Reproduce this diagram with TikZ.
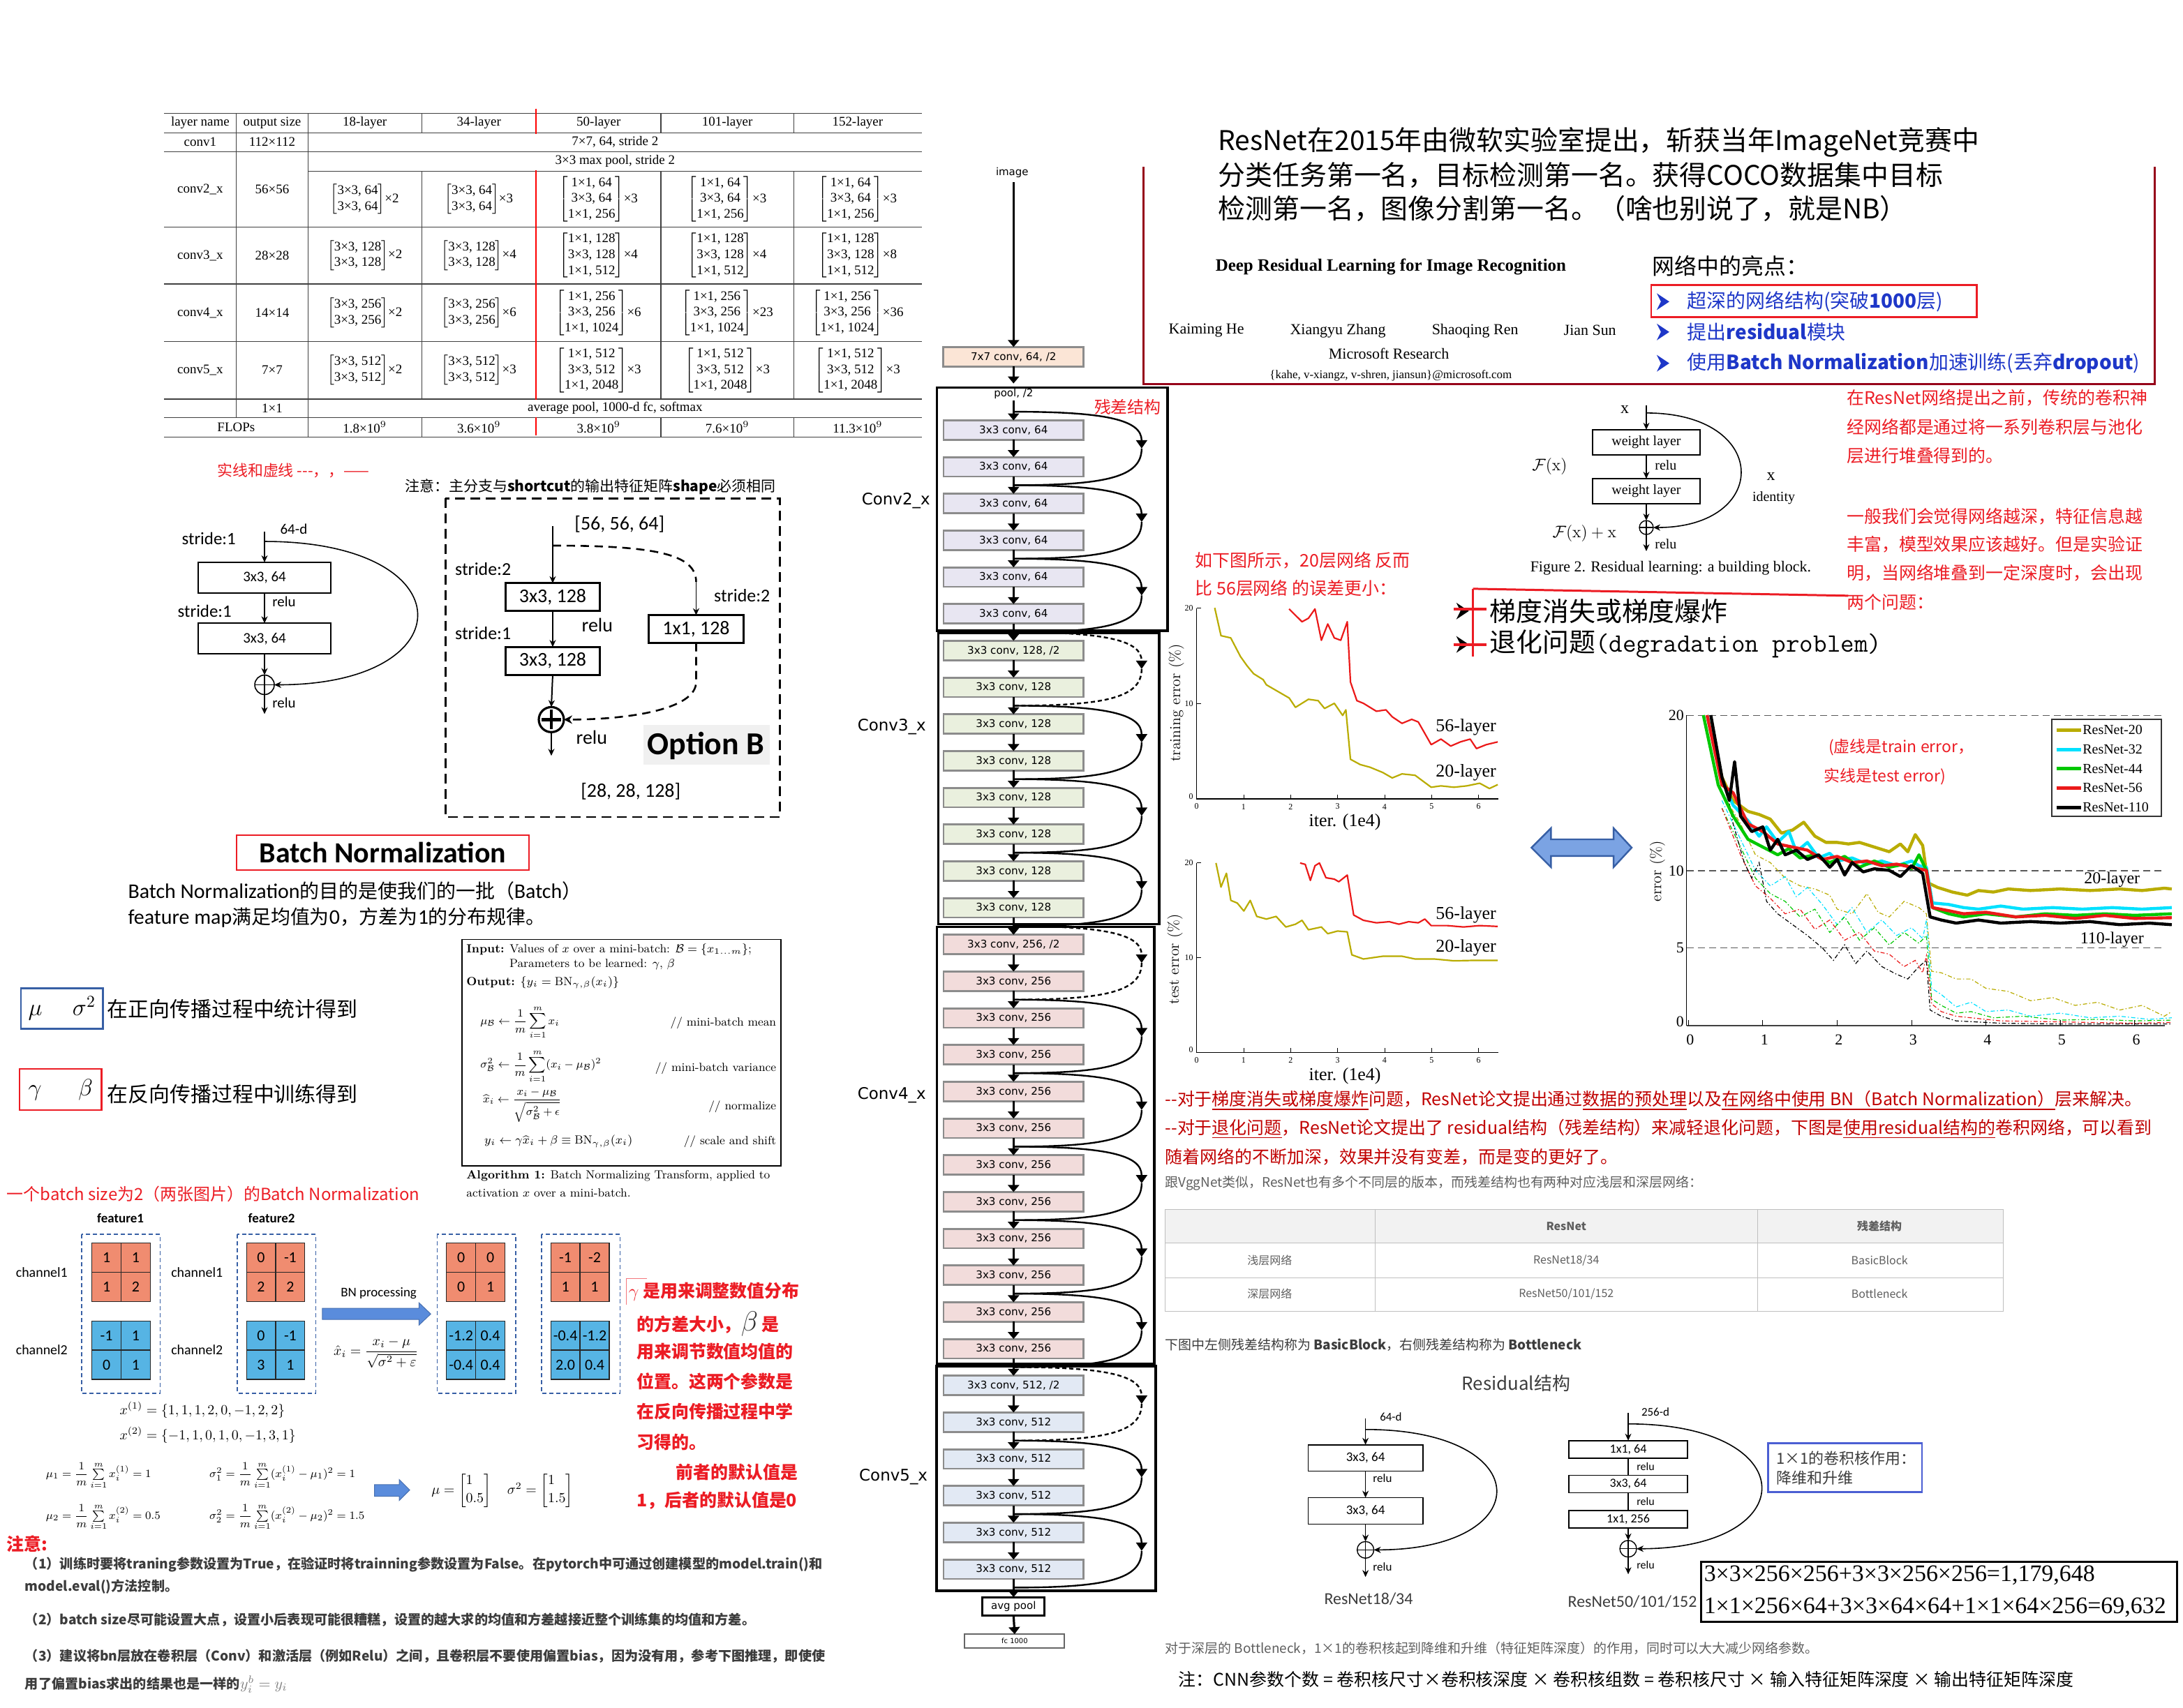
\RequirePackage{fix-cm}
\documentclass[tikz,border=0pt]{standalone}
\usepackage{amsmath}
\usepackage{fontspec}
\usetikzlibrary{arrows.meta}
\newfontfamily\cjk{Noto Sans CJK SC}
\newfontfamily\tnr{Liberation Serif}
\newfontfamily\carl{Carlito}
\newfontfamily\dvs{DejaVu Sans}
\newcommand\fsz[1]{\fontsize{#1}{#1}\selectfont}
\newcommand\brk[1]{$\left[\mbox{\begin{tabular}{@{}c@{}}#1\end{tabular}}\right]$}
\definecolor{rd}{RGB}{236,28,36}
\definecolor{drd}{RGB}{192,0,0}
\definecolor{frm}{RGB}{150,0,25}
\definecolor{blu}{RGB}{30,55,200}
\definecolor{bnb}{RGB}{55,95,165}
\definecolor{matr}{RGB}{240,140,112}
\definecolor{matb}{RGB}{86,180,228}
\definecolor{arrb}{RGB}{90,140,220}
\definecolor{olv}{RGB}{185,172,0}
\definecolor{cyn}{RGB}{0,225,255}
\definecolor{grn}{RGB}{0,200,0}
\definecolor{pr}{RGB}{235,25,25}
\definecolor{cvA}{RGB}{251,229,214}
\definecolor{cvB}{RGB}{232,230,242}
\definecolor{cvC}{RGB}{234,240,222}
\definecolor{cvD}{RGB}{242,220,219}
\definecolor{cvE}{RGB}{226,233,244}
\definecolor{txg}{RGB}{60,60,60}
\definecolor{lgr}{RGB}{95,95,95}
\tikzset{
 tline/.style={draw=black!75,line width=0.6pt},
 tt/.style={font={\tnr\fontsize{9.5}{11.4}\selectfont}},
 arr/.style={line width=0.8pt,-{Stealth[length=5pt,width=4.5pt]}},
 netbox/.style={draw=black!45,line width=1.4pt,minimum width=100.5,minimum height=14,font={\dvs\fontsize{7.6}{7.6}\selectfont}},
 netarr/.style={line width=1.6pt,-{Triangle[length=5pt,width=8pt]}},
 stagebox/.style={line width=1.8pt},
 scut/.style={line width=1.2pt,-{Triangle[length=6pt,width=8pt]}},
 scutb/.style={line width=1.2pt},
 dsh/.style={dash pattern=on 3pt off 2pt},
 mv/.style={font={\carl\fontsize{11}{11}\selectfont}},
 dd/.style={line width=0.6pt,dash pattern=on 3pt off 1.5pt on 0.8pt off 1.5pt},
 sol/.style={line width=2.2pt,line join=round},
}
\newcommand\bnmat[8]{%
 \begin{scope}[shift={(#1,#2)}]
  \fill[#3] (0,0) rectangle (42,42);
  \draw[black!85,line width=0.6pt] (0,0) rectangle (42,42) (21,0) -- (21,42) (0,21) -- (42,21);
  \node[mv] (#8a) at (10.5,10.5) {#4};
  \node[mv] (#8b) at (31.5,10.5) {#5};
  \node[mv] (#8c) at (10.5,31.5) {#6};
  \node[mv] (#8d) at (31.5,31.5) {#7};
 \end{scope}}
\newcommand\scut[2]{%
 \pgfmathsetmacro\ya{309+26.4*#1-13.2}%
 \pgfmathsetmacro\ym{309+26.4*#1+13.2}%
 \pgfmathsetmacro\yb{309+26.4*#1+39.6}%
 \coordinate (sa#1) at (728,\ya);
 \coordinate (sb#1) at (728,\yb);
 \draw[scut,#2] (sa#1) .. controls (795,\ya) and (820,{\ya+6}) .. (820,\ym);
 \draw[scutb,#2] (820,\ym) .. controls (820,{\yb-6}) and (795,\yb) .. (sb#1);}
\newcommand\bul[3]{\fill[#3] (#1,{#2-6}) -- ({#1+9},#2) -- (#1,{#2+6}) -- ({#1+3},#2) -- cycle;}
\begin{document}
\begin{tikzpicture}[x=1pt,y=-1pt,every node/.style={inner sep=0pt,outer sep=0pt}]
\useasboundingbox (0,0) rectangle (1568,1227);
\fill[white] (0,0) rectangle (1568,1227);

%% ================= TABLE =================
\draw[tline] (118,81.3) -- (662.4,81.3);
\draw[tline] (118,95.3) -- (662.4,95.3);
\draw[tline] (118,109) -- (662.4,109);
\draw[tline] (221.3,123) -- (662.4,123);
\foreach \y in {163,204,245.5,286.7,300,314} \draw[tline] (118,\y) -- (662.4,\y);
\draw[tline] (169.6,81.3) -- (169.6,300);
\draw[tline] (221.3,81.3) -- (221.3,314);
\foreach \x in {303,474.7,570} {\draw[tline] (\x,81.3) -- (\x,95.3); \draw[tline] (\x,123) -- (\x,286.7); \draw[tline] (\x,300) -- (\x,314);}
\draw[red,line width=1pt] (385,78) -- (385,96) (385,122.5) -- (385,287) (385,300) -- (385,313);
\foreach \x/\t [count=\i] in {143.8/layer name,195.5/output size,262/18-layer,344/34-layer,430/50-layer,522.4/101-layer,616/152-layer}
  \node[tt] (th\i) at (\x,88.3) {\t};
\node[tt] (tc1a) at (143.8,102) {conv1};
\node[tt] (tc1b) at (195.5,102) {112×112};
\node[tt] (tc1c) at (441.8,102) {7×7, 64, stride 2};
\node[tt] (tmp) at (441.8,116) {3×3 max pool, stride 2};
\node[tt] (tc2a) at (143.8,136) {conv2\_x};
\node[tt] (tc2b) at (195.5,136) {56×56};
\node[tt] (tc2c) at (262,143) {\brk{3×3, 64\\3×3, 64}×2};
\node[tt] (tc2d) at (344,143) {\brk{3×3, 64\\3×3, 64}×3};
\node[tt] (tc2e) at (430,143) {\brk{1×1, 64\\3×3, 64\\1×1, 256}×3};
\node[tt] (tc2f) at (522.4,143) {\brk{1×1, 64\\3×3, 64\\1×1, 256}×3};
\node[tt] (tc2g) at (616,143) {\brk{1×1, 64\\3×3, 64\\1×1, 256}×3};
\node[tt] (tc3a) at (143.8,183.5) {conv3\_x};
\node[tt] (tc3b) at (195.5,183.5) {28×28};
\node[tt] (tc3c) at (262,183.5) {\brk{3×3, 128\\3×3, 128}×2};
\node[tt] (tc3d) at (344,183.5) {\brk{3×3, 128\\3×3, 128}×4};
\node[tt] (tc3e) at (430,183.5) {\brk{1×1, 128\\3×3, 128\\1×1, 512}×4};
\node[tt] (tc3f) at (522.4,183.5) {\brk{1×1, 128\\3×3, 128\\1×1, 512}×4};
\node[tt] (tc3g) at (616,183.5) {\brk{1×1, 128\\3×3, 128\\1×1, 512}×8};
\node[tt] (tc4a) at (143.8,224.7) {conv4\_x};
\node[tt] (tc4b) at (195.5,224.7) {14×14};
\node[tt] (tc4c) at (262,224.7) {\brk{3×3, 256\\3×3, 256}×2};
\node[tt] (tc4d) at (344,224.7) {\brk{3×3, 256\\3×3, 256}×6};
\node[tt] (tc4e) at (430,224.7) {\brk{1×1, 256\\3×3, 256\\1×1, 1024}×6};
\node[tt] (tc4f) at (522.4,224.7) {\brk{1×1, 256\\3×3, 256\\1×1, 1024}×23};
\node[tt] (tc4g) at (616,224.7) {\brk{1×1, 256\\3×3, 256\\1×1, 1024}×36};
\node[tt] (tc5a) at (143.8,266) {conv5\_x};
\node[tt] (tc5b) at (195.5,266) {7×7};
\node[tt] (tc5c) at (262,266) {\brk{3×3, 512\\3×3, 512}×2};
\node[tt] (tc5d) at (344,266) {\brk{3×3, 512\\3×3, 512}×3};
\node[tt] (tc5e) at (430,266) {\brk{1×1, 512\\3×3, 512\\1×1, 2048}×3};
\node[tt] (tc5f) at (522.4,266) {\brk{1×1, 512\\3×3, 512\\1×1, 2048}×3};
\node[tt] (tc5g) at (616,266) {\brk{1×1, 512\\3×3, 512\\1×1, 2048}×3};
\node[tt] (tavb) at (195.5,293.3) {1×1};
\node[tt] (tavc) at (441.8,293.3) {average pool, 1000-d fc, softmax};
\node[tt] (tfa) at (169.6,307) {FLOPs};
\node[tt] (tfb) at (262,307) {1.8×10$^9$};
\node[tt] (tfc) at (344,307) {3.6×10$^9$};
\node[tt] (tfd) at (430,307) {3.8×10$^9$};
\node[tt] (tfe) at (522.4,307) {7.6×10$^9$};
\node[tt] (tff) at (616,307) {11.3×10$^9$};

%% ================= SHORTCUT DIAGRAMS =================
\node[font=\cjk\fsz{11},text=rd,anchor=west] (sx1) at (156,338) {实线和虚线 ---，，——};
\node[font=\cjk\fsz{10.5},anchor=west] (sx2) at (291,350) {注意：主分支与\textbf{shortcut}的输出特征矩阵\textbf{shape}必须相同};
\draw[line width=1.4pt,dash pattern=on 7pt off 4pt] (320,358) rectangle (560,587);
% left block
\node[draw,line width=0.9pt,minimum width=95,minimum height=22,font=\carl\fsz{10.5}] (L1) at (190,415) {3x3, 64};
\node[draw,line width=0.9pt,minimum width=95,minimum height=22,font=\carl\fsz{10.5}] (L2) at (190,458.8) {3x3, 64};
\node[draw,circle,line width=0.8pt,minimum size=14] (Ls) at (190,492) {};
\draw[line width=0.8pt] (Ls.north) -- (Ls.south) (Ls.west) -- (Ls.east);
\coordinate (Lin) at (190,382);
\coordinate (Lj) at (190,389);
\coordinate (Lout) at (190,513);
\draw[arr] (Lin) -- (L1.north);
\draw[arr] (L1.south) -- (L2.north);
\draw[arr] (L2.south) -- (Ls.north);
\draw[arr] (Ls.south) -- (Lout);
\draw[arr] (Lj) .. controls (335,389) and (335,492) .. (Ls.east);
\node[font=\carl\fsz{10.5}] (L64) at (211,380) {64-d};
\node[font=\carl\fsz{12.5}] (Lst1) at (150,387) {stride:1};
\node[font=\carl\fsz{12.5}] (Lst2) at (147,439) {stride:1};
\node[font=\carl\fsz{10.5}] (Lr1) at (204,432) {relu};
\node[font=\carl\fsz{10.5}] (Lr2) at (204,505) {relu};
% right block (Option B)
\node[draw,line width=1.6pt,minimum width=68,minimum height=20,font=\carl\fsz{14}] (R1) at (397,429) {3x3, 128};
\node[draw,line width=1.6pt,minimum width=68,minimum height=20,font=\carl\fsz{14}] (R2) at (397,474.8) {3x3, 128};
\node[draw,line width=1.6pt,minimum width=68,minimum height=20,font=\carl\fsz{14}] (R3) at (500,452) {1x1, 128};
\node[draw,circle,line width=1.6pt,minimum size=18] (Rs) at (396,517) {};
\draw[line width=2.4pt] (396,510) -- (396,524) (389,517) -- (403,517);
\coordinate (Rin) at (397,378);
\coordinate (Rout) at (396,543);
\coordinate (Rj) at (397,392);
\coordinate (Rk) at (500,418);
\draw[arr,line width=1pt] (Rin) -- (R1.north);
\draw[arr,line width=1pt] (R1.south) -- (R2.north);
\draw[arr,line width=1pt] (R2.south) -- (Rs.north);
\draw[arr,line width=1pt] (Rs.south) -- (Rout);
\draw[line width=1.3pt,dash pattern=on 6pt off 4pt] (Rj) .. controls (470,392) and (500,398) .. (Rk);
\draw[arr] (Rk) -- (R3.north);
\draw[line width=1.3pt,dash pattern=on 6pt off 4pt,-{Stealth[length=6pt,width=6pt]}] (R3.south) -- (500,490) .. controls (500,510) and (450,517) .. (Rs.east);
\node[font=\carl\fsz{14}] (R56) at (445,376.5) {[56, 56, 64]};
\node[font=\carl\fsz{13}] (Rst1) at (347,409) {stride:2};
\node[font=\carl\fsz{13}] (Rst2) at (347,455) {stride:1};
\node[font=\carl\fsz{13}] (Rst3) at (533,428) {stride:2};
\node[font=\carl\fsz{14}] (Rr1) at (429,449) {relu};
\node[font=\carl\fsz{14}] (Rr2) at (425,530) {relu};
\node[font=\carl\fsz{14}] (R28) at (453,568.5) {[28, 28, 128]};
\fill[black!6] (462,521) rectangle (553,549.5);
\node[font=\carl\bfseries\fsz{23}] (optb) at (507,536) {Option B};

%% ================= BATCH NORMALIZATION =================
\node[draw=rd,line width=1.3pt,minimum width=210,minimum height=25,font=\carl\bfseries\fsz{21}] (bntitle) at (275,612.5) {Batch Normalization};
\node[anchor=west] (bnt1) at (92,640) {{\carl\fsz{15}Batch Normalization}{\cjk\fsz{14}的目的是使我们的一批（}{\carl\fsz{15}Batch}{\cjk\fsz{14}）}};
\node[anchor=west] (bnt2) at (92,659) {{\carl\fsz{15}feature map}{\cjk\fsz{14}满足均值为}{\carl\fsz{15}0}{\cjk\fsz{14}，方差为}{\carl\fsz{15}1}{\cjk\fsz{14}的分布规律。}};
\node[draw=bnb,line width=1.3pt,minimum width=59,minimum height=29,font=\fsz{17}] (mubox) at (44.5,724.5) {$\mu\quad\;\sigma^{2}$};
\node[font=\cjk\fsz{15},anchor=west] (mutxt) at (77,725) {在正向传播过程中统计得到};
\node[draw=rd,line width=1.3pt,minimum width=59,minimum height=29.5,font=\fsz{17}] (gbox) at (43.5,782.75) {$\gamma\quad\;\;\beta$};
\node[font=\cjk\fsz{15},anchor=west] (gtxt) at (77,786) {在反向传播过程中训练得到};

%% ================= ALGORITHM BOX =================
\draw[line width=0.8pt] (331.7,675) rectangle (561,837.5);
\node[font=\fsz{8.5},anchor=west] (al1) at (335,682.5) {\textbf{Input:} Values of $x$ over a mini-batch: $\mathcal{B}=\{x_{1\ldots m}\}$;};
\node[font=\fsz{8.5},anchor=west] (al2) at (366,693) {Parameters to be learned: $\gamma$, $\beta$};
\node[font=\fsz{8.5},anchor=west] (al3) at (335,706) {\textbf{Output:} $\{y_i=\mathrm{BN}_{\gamma,\beta}(x_i)\}$};
\node[font=\fsz{8},anchor=west] (al4) at (345,734.5) {$\displaystyle\mu_{\mathcal{B}}\leftarrow\frac{1}{m}\sum_{i=1}^{m}x_i$};
\node[font=\fsz{8.5},anchor=east] (al4c) at (557.5,735) {// mini-batch mean};
\node[font=\fsz{8},anchor=west] (al5) at (345,766) {$\displaystyle\sigma^2_{\mathcal{B}}\leftarrow\frac{1}{m}\sum_{i=1}^{m}(x_i-\mu_{\mathcal{B}})^2$};
\node[font=\fsz{8.5},anchor=east] (al5c) at (557.5,767.5) {// mini-batch variance};
\node[font=\fsz{8},anchor=west] (al6) at (347,794) {$\displaystyle\widehat{x}_i\leftarrow\frac{x_i-\mu_{\mathcal{B}}}{\sqrt{\sigma^2_{\mathcal{B}}+\epsilon}}$};
\node[font=\fsz{8.5},anchor=east] (al6c) at (557.5,795) {// normalize};
\node[font=\fsz{8.5},anchor=west] (al7) at (348,820) {$y_i\leftarrow\gamma\widehat{x}_i+\beta\equiv\mathrm{BN}_{\gamma,\beta}(x_i)$};
\node[font=\fsz{8.5},anchor=east] (al7c) at (557.5,820) {// scale and shift};
\node[font=\fsz{8.5},anchor=west] (al8) at (335,845) {\textbf{Algorithm 1:} Batch Normalizing Transform, applied to};
\node[font=\fsz{8.5},anchor=west] (al9) at (335,857) {activation $x$ over a mini-batch.};

%% ================= BN EXAMPLE =================
\node[font=\cjk\fsz{12},text=rd,anchor=west] (ex0) at (5,858) {一个batch size为2（两张图片）的Batch Normalization};
\node[font=\carl\bfseries\fsz{9.5}] (f1) at (86.5,875) {feature1};
\node[font=\carl\bfseries\fsz{9.5}] (f2) at (195,875) {feature2};
\foreach \x in {58.7,170.5,314,389} \draw[bnb,line width=0.8pt,dash pattern=on 3pt off 2pt] (\x,886.7) rectangle ({\x+56.3},1001);
\bnmat{66}{893}{matr}{1}{1}{1}{2}{ma}
\bnmat{66}{949}{matb}{-1}{1}{0}{1}{mb}
\bnmat{177}{893}{matr}{0}{-1}{2}{2}{mc}
\bnmat{177}{949}{matb}{0}{-1}{3}{1}{md}
\bnmat{320.7}{893}{matr}{0}{0}{0}{1}{me}
\bnmat{320.7}{949}{matb}{-1.2}{0.4}{-0.4}{0.4}{mf}
\bnmat{395.6}{893}{matr}{-1}{-2}{1}{1}{mg}
\bnmat{395.6}{949}{matb}{-0.4}{-1.2}{2.0}{0.4}{mh}
\node[font=\carl\fsz{10}] (ch1) at (30,914) {channel1};
\node[font=\carl\fsz{10}] (ch2) at (30,970) {channel2};
\node[font=\carl\fsz{10}] (ch3) at (141.5,914) {channel1};
\node[font=\carl\fsz{10}] (ch4) at (141.5,970) {channel2};
\node[font=\carl\fsz{9.5}] (bnp) at (272,929) {BN processing};
\filldraw[fill=arrb,draw=arrb!80!black,line width=0.5pt] (231.5,940) -- (301,940) -- (301,936) -- (309.4,944) -- (301,952) -- (301,948) -- (231.5,948) -- cycle;
\node[font=\fsz{10}] (bnf) at (270,972) {$\hat{x}_i=\dfrac{x_i-\mu}{\sqrt{\sigma^2+\varepsilon}}$};
\draw[rd!60,line width=0.6pt] (464.8,918.7) -- (449.8,918.7) -- (449.8,937.5);
\node[font=\cjk\bfseries\fsz{12.5},text=rd,anchor=west] (r1) at (451.6,928) {{\mdseries\fsz{13}$\gamma$} 是用来调整数值分布};
\node[font=\cjk\bfseries\fsz{12.5},text=rd,anchor=west] (r2) at (457.3,951) {的方差大小，{\mdseries\color{black!80}\fsz{20}$\beta$} 是};
\node[font=\cjk\bfseries\fsz{12.5},text=rd,anchor=west] (r3) at (457.3,971) {用来调节数值均值的};
\node[font=\cjk\bfseries\fsz{12.5},text=rd,anchor=west] (r4) at (457.3,992.5) {位置。这两个参数是};
\node[font=\cjk\bfseries\fsz{12.5},text=rd,anchor=west] (r5) at (457.3,1014) {在反向传播过程中学};
\node[font=\cjk\bfseries\fsz{12.5},text=rd,anchor=west] (r6) at (457.3,1036) {习得的。};
\node[font=\cjk\bfseries\fsz{12.5},text=rd,anchor=west] (r7) at (485.5,1057.5) {前者的默认值是};
\node[font=\cjk\bfseries\fsz{12.5},text=rd,anchor=west] (r8) at (457.3,1078) {1，后者的默认值是0};
\node[font=\fsz{10},anchor=west] (xv1) at (86,1013) {$x^{(1)}=\{1,1,1,2,0,-1,2,2\}$};
\node[font=\fsz{10},anchor=west] (xv2) at (86,1031) {$x^{(2)}=\{-1,1,0,1,0,-1,3,1\}$};
\node[font=\fsz{8},anchor=west] (mu1) at (33,1060) {$\mu_1=\dfrac{1}{m}\sum\limits_{i=1}^{m}x_i^{(1)}=1$};
\node[font=\fsz{8},anchor=west] (mu2) at (33,1090) {$\mu_2=\dfrac{1}{m}\sum\limits_{i=1}^{m}x_i^{(2)}=0.5$};
\node[font=\fsz{8},anchor=west] (sg1) at (150.5,1060) {$\sigma_1^2=\dfrac{1}{m}\sum\limits_{i=1}^{m}(x_i^{(1)}-\mu_1)^2=1$};
\node[font=\fsz{8},anchor=west] (sg2) at (150.5,1090) {$\sigma_2^2=\dfrac{1}{m}\sum\limits_{i=1}^{m}(x_i^{(2)}-\mu_2)^2=1.5$};
\filldraw[fill=arrb,draw=arrb!80!black,line width=0.5pt] (269,1066.7) -- (286.8,1066.7) -- (286.8,1063) -- (294.3,1070.5) -- (286.8,1078) -- (286.8,1075) -- (269,1075) -- cycle;
\node[font=\fsz{10},anchor=west] (musg) at (310,1071) {$\mu=\left[\begin{array}{@{}l@{}}1\\[3pt]0.5\end{array}\right]\quad\sigma^2=\left[\begin{array}{@{}l@{}}1\\[3pt]1.5\end{array}\right]$};

%% ================= NOTES =================
\node[font=\cjk\bfseries\fsz{12.5},text=rd,anchor=west] (nt0) at (5,1109) {注意:};
\node[font=\cjk\bfseries\fsz{9.6},text=txg,anchor=west] (nt1) at (18,1124) {（1）训练时要将traning参数设置为True，在验证时将trainning参数设置为False。在pytorch中可通过创建模型的model.train()和};
\node[font=\cjk\bfseries\fsz{9.6},text=txg,anchor=west] (nt2) at (18,1140) {model.eval()方法控制。};
\node[font=\cjk\bfseries\fsz{9.6},text=txg,anchor=west] (nt3) at (18,1164) {（2）batch size尽可能设置大点，设置小后表现可能很糟糕，设置的越大求的均值和方差越接近整个训练集的均值和方差。};
\node[font=\cjk\bfseries\fsz{9.6},text=txg,anchor=west] (nt4) at (18,1190) {（3）建议将bn层放在卷积层（Conv）和激活层（例如Relu）之间，且卷积层不要使用偏置bias，因为没有用，参考下图推理，即使使};
\node[font=\cjk\bfseries\fsz{9.6},text=txg,anchor=west] (nt5) at (18,1210) {用了偏置bias求出的结果也是一样的{\mdseries\color{black!50}\fsz{11}$y_i^b=y_i$}};

%% ================= NETWORK COLUMN =================
\node[font=\dvs\fsz{7.5}] (img) at (727,124) {image};
\node[netbox,fill=cvA,minimum width=100.7] (cv1) at (728,256.3) {7x7 conv, 64, /2};
\draw[netarr] (728,131) -- (cv1.north);
\draw[netarr] (cv1.south) -- (728,275.5);
\draw[stagebox] (673,278.4) rectangle (838.7,453);
\draw[stagebox] (674,455) rectangle (832.5,664);
\draw[stagebox] (673,666) rectangle (829,980);
\draw[stagebox] (672.7,981.5) rectangle (830,1143);
\node[font=\dvs\fsz{7.5}] (pool) at (728,283) {pool, /2};
\foreach \k in {0,...,5} \node[netbox,fill=cvB] (b\k) at (728,{309+26.4*\k}) {3x3 conv, 64};
\node[netbox,fill=cvC] (b6) at (728,{309+26.4*6}) {3x3 conv, 128, /2};
\foreach \k in {7,...,13} \node[netbox,fill=cvC] (b\k) at (728,{309+26.4*\k}) {3x3 conv, 128};
\node[netbox,fill=cvD] (b14) at (728,{309+26.4*14}) {3x3 conv, 256, /2};
\foreach \k in {15,...,25} \node[netbox,fill=cvD] (b\k) at (728,{309+26.4*\k}) {3x3 conv, 256};
\node[netbox,fill=cvE] (b26) at (728,{309+26.4*26}) {3x3 conv, 512, /2};
\foreach \k in {27,...,31} \node[netbox,fill=cvE] (b\k) at (728,{309+26.4*\k}) {3x3 conv, 512};
\draw[netarr] (728,287.5) -- (b0.north);
\foreach \k in {0,...,30} {\pgfmathtruncatemacro\n{\k+1}\draw[netarr] (b\k.south) -- (b\n.north);}
\foreach \k in {0,2,4,8,10,12,16,18,20,22,24,28,30} {\scut{\k}{}}
\scut{6}{dsh}
\scut{14}{dsh}
\scut{26}{dsh}
\node[draw,line width=1.5pt,minimum width=44.5,minimum height=13,font=\dvs\fsz{7.5}] (avg) at (728,1154) {avg pool};
\node[draw=black!60,line width=1pt,minimum width=71.7,minimum height=10,font=\dvs\fsz{5}] (fc) at (728.8,1179) {fc 1000};
\draw[netarr] (b31.south) -- (avg.north);
\draw[netarr] (avg.south) -- (fc.north);
\node[font=\cjk\fsz{12},text=rd] (rcjg) at (810,292.5) {残差结构};
\node[font=\dvs\fsz{11.5}] (lc2) at (643.5,360) {Conv2\_x};
\node[font=\dvs\fsz{11.5}] (lc3) at (640.5,522) {Conv3\_x};
\node[font=\dvs\fsz{11.5}] (lc4) at (640.5,787) {Conv4\_x};
\node[font=\dvs\fsz{11.5}] (lc5) at (641.7,1061) {Conv5\_x};

%% ================= TOP RIGHT =================
\draw[frm,line width=1.3pt] (821.4,120) -- (821.4,276) -- (1547.6,276) -- (1547.6,120);
\node[font=\cjk\fsz{19.5},anchor=west] (tr1) at (875,102) {ResNet在2015年由微软实验室提出，斩获当年ImageNet竞赛中};
\node[font=\cjk\fsz{19.5},anchor=west] (tr2) at (875,126) {分类任务第一名，目标检测第一名。获得COCO数据集中目标};
\node[font=\cjk\fsz{19.5},anchor=west] (tr3) at (875,150) {检测第一名，图像分割第一名。（啥也别说了，就是NB）};
\node[font=\tnr\bfseries\fsz{12.5}] (ptitle) at (999,191.7) {Deep Residual Learning for Image Recognition};
\node[font=\tnr\fsz{11}] (au1) at (866.5,237.5) {Kaiming He};
\node[font=\tnr\fsz{11}] (au2) at (961,237.5) {Xiangyu Zhang};
\node[font=\tnr\fsz{11}] (au3) at (1059.5,237.5) {Shaoqing Ren};
\node[font=\tnr\fsz{11}] (au4) at (1142,237.5) {Jian Sun};
\node[font=\tnr\fsz{11}] (au5) at (997.6,254) {Microsoft Research};
\node[font=\tnr\fsz{8.5}] (au6) at (999,269.7) {\{kahe, v-xiangz, v-shren, jiansun\}@microsoft.com};
\node[font=\cjk\fsz{16},anchor=west] (hl) at (1187,191) {网络中的亮点：};
\draw[rd,line width=1.4pt] (1186,204.7) rectangle (1420,228);
\bul{1190}{216.7}{blu}
\bul{1190}{238.5}{blu}
\bul{1190}{261}{blu}
\node[font=\cjk\fsz{14},text=blu,anchor=west] (hl1) at (1212,216.7) {超深的网络结构(突破\textbf{1000}层)};
\node[font=\cjk\fsz{14},text=blu,anchor=west] (hl2) at (1212,238.5) {提出\textbf{residual}模块};
\node[font=\cjk\fsz{14},text=blu,anchor=west] (hl3) at (1212,261) {使用\textbf{Batch Normalization}加速训练(丢弃\textbf{dropout})};

%% ================= BUILDING BLOCK =================
\node[draw,line width=0.8pt,minimum width=77,minimum height=18,font=\tnr\fsz{10}] (w1) at (1182.5,317.7) {weight layer};
\node[draw,line width=0.8pt,minimum width=77,minimum height=18,font=\tnr\fsz{10}] (w2) at (1182.5,352.9) {weight layer};
\node[draw,circle,line width=0.7pt,minimum size=10] (ws) at (1182.5,379) {};
\draw[line width=0.7pt] (ws.north) -- (ws.south) (ws.west) -- (ws.east);
\coordinate (win) at (1182.5,291);
\coordinate (wj) at (1182.5,296.7);
\coordinate (wout) at (1182.5,396);
\draw[arr,line width=0.7pt] (win) -- (w1.north);
\draw[arr,line width=0.7pt] (w1.south) -- (w2.north);
\draw[arr,line width=0.7pt] (w2.south) -- (ws.north);
\draw[arr,line width=0.7pt] (ws.south) -- (wout);
\draw[arr,line width=0.8pt] (wj) .. controls (1272,296.7) and (1272,379) .. (ws.east);
\node[font=\tnr\fsz{12}] (wx) at (1167,294) {x};
\node[font=\tnr\fsz{10}] (wr1) at (1196.5,334) {relu};
\node[font=\tnr\fsz{10}] (wr2) at (1196.5,391) {relu};
\node[font=\fsz{12}] (wf) at (1113,335) {$\mathcal{F}(\mathrm{x})$};
\node[font=\fsz{12}] (wfx) at (1138,383) {$\mathcal{F}(\mathrm{x})+\mathrm{x}$};
\node[font=\tnr\fsz{12}] (wx2) at (1272,342.5) {x};
\node[font=\tnr\fsz{10}] (wid) at (1274,358) {identity};
\node[font=\tnr\fsz{11}] (wcap) at (1200,408) {Figure 2. Residual learning: a building block.};
\node[font=\cjk\fsz{12.5},text=rd,anchor=west] (q1) at (1326.5,286) {在ResNet网络提出之前，传统的卷积神};
\node[font=\cjk\fsz{12.5},text=rd,anchor=west] (q2) at (1326.5,306.7) {经网络都是通过将一系列卷积层与池化};
\node[font=\cjk\fsz{12.5},text=rd,anchor=west] (q3) at (1326.5,327.5) {层进行堆叠得到的。};
\node[font=\cjk\fsz{12.5},text=rd,anchor=west] (q4) at (1326.5,371) {一般我们会觉得网络越深，特征信息越};
\node[font=\cjk\fsz{12.5},text=rd,anchor=west] (q5) at (1326.5,391) {丰富，模型效果应该越好。但是实验证};
\node[font=\cjk\fsz{12.5},text=rd,anchor=west] (q6) at (1326.5,411.7) {明，当网络堆叠到一定深度时，会出现};
\node[font=\cjk\fsz{12.5},text=rd,anchor=west] (q7) at (1326.5,432.5) {两个问题：};
\node[font=\cjk\fsz{12.5},text=rd,anchor=west] (q8) at (858.6,402.5) {如下图所示，20层网络 反而};
\node[font=\cjk\fsz{12.5},text=rd,anchor=west] (q9) at (858.6,422.5) {比 56层网络 的误差更小：};
\draw[rd,line width=1.5pt] (1058,423) -- (1327.5,428);
\draw[rd,line width=1.2pt] (1058,423) -- (1058,471.7);
\bul{1046}{439}{black}
\bul{1046}{463}{black}
\draw[rd,line width=2pt] (1044,437.5) -- (1067.5,437.5) (1044,463) -- (1067.5,463);
\node[font=\cjk\fsz{19},anchor=west] (pb1) at (1070,439) {梯度消失或梯度爆炸};
\node[anchor=west] (pb2) at (1070,462.5) {{\cjk\fsz{19}退化问题}{\ttfamily\fsz{19}(degradation problem)}};

%% ================= LEFT PLOTS =================
\draw[line width=0.6pt] (859.5,437) -- (859.5,574) -- (1076,574);
\draw[line width=0.6pt] (859.5,620) -- (859.5,756) -- (1076,756);
\foreach \i in {0,...,6} {
  \draw[line width=0.4pt] ({859.5+33.75*\i},574) -- ({859.5+33.75*\i},571);
  \node[font=\tnr\fsz{6}] (pa\i) at ({859.5+33.75*\i},579.5) {\i};
  \draw[line width=0.4pt] ({859.5+33.75*\i},756) -- ({859.5+33.75*\i},753);
  \node[font=\tnr\fsz{6}] (pc\i) at ({859.5+33.75*\i},761.7) {\i};}
\foreach \v/\yy in {0/572,10/505.5,20/437} {\node[font=\tnr\fsz{6},anchor=east] (pb\v) at (857,\yy) {\v};}
\foreach \v/\yy in {0/754,10/688,20/620} {\node[font=\tnr\fsz{6},anchor=east] (pd\v) at (857,\yy) {\v};}
\foreach \yy in {505.5,437,688,620} \draw[line width=0.4pt] (859.5,\yy) -- (862.5,\yy);
\node[font=\tnr\fsz{13}] (pit1) at (966,590.5) {iter. (1e4)};
\node[font=\tnr\fsz{13}] (pit2) at (966,773) {iter. (1e4)};
\node[font=\fsz{11},rotate=90] (pyl1) at (845,505) {training error (\%)};
\node[font=\fsz{11},rotate=90] (pyl2) at (844,689) {test error (\%)};
\draw[pr,line width=1.1pt,line join=round] plot coordinates {(925.9,437.5) (935.2,446.7) (939.8,444.2) (944.5,437.5) (949.1,460) (953.7,448.3) (958.4,458.3) (963,460) (967.7,446.7) (970,490) (974.6,503.4) (979.3,505.3) (988.6,511) (995.5,510) (1000,515) (1007,519.7) (1014,516.8) (1018.7,518.7) (1028,535) (1035,531) (1042,536) (1049,533) (1056,531) (1060.5,537.8) (1067.5,535) (1075.8,533)};
\draw[olv,line width=1.1pt,line join=round] plot coordinates {(872.5,436.7) (877,456.7) (884,458.3) (891,471.7) (895.7,478.3) (900.4,484) (907.3,488.3) (909.6,492) (921,498.6) (926,501.5) (930.5,508.2) (939.8,502.4) (946.8,503.4) (951.4,509) (958.4,505.3) (964.4,514) (966.7,510) (970,545.5) (977,549.3) (984,551.2) (993.2,555) (1000,558.9) (1007,556) (1016.4,557) (1028,565.6) (1035,564.6) (1044.3,565.6) (1053.6,564.6) (1062.8,562.7) (1069.8,566.5) (1075.8,563.7)};
\draw[pr,line width=1.1pt,line join=round] plot coordinates {(933.8,620) (937.5,621) (941.2,632.5) (944.5,622) (947.7,620) (952.4,630.6) (958.4,631.6) (961.6,633.5) (967.7,628.7) (972.3,657.4) (979.3,661.2) (988.6,663) (997.8,662.2) (1004.8,664) (1011.8,662.2) (1018.7,663) (1023.4,660.3) (1028,665) (1039.6,665) (1051.2,666) (1062.8,665) (1075.8,665.6)};
\draw[olv,line width=1.1pt,line join=round] plot coordinates {(873.4,620) (877,637.3) (880.9,627.4) (884.1,646.9) (888.7,648.8) (893.4,654.5) (898,646.9) (902.7,658.4) (909.6,660.3) (916.6,658.4) (923.6,666) (930.5,664) (935.2,661.2) (939.8,668) (949.1,666) (953.7,670.8) (960.7,668.9) (967.7,669.5) (971,686) (979.3,689) (993.2,687) (1007,687) (1016.4,689) (1030.3,689) (1044.3,690.3) (1058.2,690) (1075.8,690)};
\node[font=\tnr\fsz{13}] (lb1) at (1053,522.5) {56-layer};
\node[font=\tnr\fsz{13}] (lb2) at (1053,555) {20-layer};
\node[font=\tnr\fsz{13}] (lb3) at (1053,657.4) {56-layer};
\node[font=\tnr\fsz{13}] (lb4) at (1053,681) {20-layer};
\filldraw[fill=arrb!80,draw=bnb,line width=1.2pt] (1100,609) -- (1114,595) -- (1114,603) -- (1159,603) -- (1159,595) -- (1172,609) -- (1159,623) -- (1159,615) -- (1114,615) -- (1114,623) -- cycle;

%% ================= BIG PLOT =================
\foreach \yy in {514,625.5,681} \draw[black!65,line width=0.9pt,dash pattern=on 5pt off 3pt] (1211.4,\yy) -- (1555,\yy);
\draw[black!75,line width=1pt] (1211.4,736.8) -- (1555,736.8);
\draw[line width=0.6pt] (1211.4,514) -- (1211.4,736.8);
\foreach \i in {0,...,6} {\draw[line width=0.5pt] ({1212.8+53.4*\i},736.8) -- ({1212.8+53.4*\i},733);
  \node[font=\tnr\fsz{11}] (bx\i) at ({1214+53.4*\i},747) {\i};}
\node[font=\tnr\fsz{11},anchor=east] (by20) at (1209.5,514) {20};
\node[font=\tnr\fsz{11},anchor=east] (by10) at (1209.5,625.5) {10};
\node[font=\tnr\fsz{11},anchor=east] (by5) at (1209.5,681) {5};
\node[font=\tnr\fsz{11},anchor=east] (by0) at (1209.5,734) {0};
\node[font=\fsz{11},rotate=90] (byl) at (1190.5,626) {error (\%)};
\begin{scope}[shift={(1212.8,736.8)},x=53.4pt,y=11.15pt]
\draw[olv,dd] plot coordinates {(0.45,15) (0.7,13) (0.9,11) (1.1,10.5) (1.3,9.5) (1.5,9.0) (1.7,8.8) (1.9,8.4) (2.0,7.5) (2.2,7.2) (2.4,8.5) (2.55,7.3) (2.7,7.0) (2.9,8.0) (3.1,7.6) (3.2,7.2) (3.27,3.5) (3.4,3.4) (3.6,3.0) (3.8,3.0) (4.0,2.4) (4.3,2.2) (4.6,1.6) (4.9,1.8) (5.2,1.3) (5.5,1.5) (5.8,1.0) (6.1,1.3) (6.4,0.6) (6.5,0.9)};
\draw[cyn,dd] plot coordinates {(0.45,14.5) (0.7,12) (0.9,10) (1.1,9.0) (1.3,9.6) (1.45,8.3) (1.6,8.9) (1.8,7.8) (2.0,6.5) (2.2,7.6) (2.4,6.0) (2.6,6.8) (2.8,5.8) (3.0,6.3) (3.15,5.6) (3.2,6.8) (3.27,2.4) (3.4,2.0) (3.6,1.2) (3.8,1.5) (4.0,0.9) (4.3,1.0) (4.6,0.6) (5.0,0.8) (5.4,0.5) (5.8,0.6) (6.2,0.4) (6.5,0.5)};
\draw[grn,dd] plot coordinates {(0.45,14) (0.7,11.5) (0.9,9.5) (1.1,8.5) (1.3,8.0) (1.5,7.0) (1.7,7.5) (1.9,6.0) (2.1,7.0) (2.3,5.5) (2.5,6.3) (2.7,5.2) (2.9,6.0) (3.1,5.3) (3.2,5.8) (3.27,1.7) (3.4,1.3) (3.6,0.8) (3.8,0.9) (4.1,0.5) (4.5,0.6) (5.0,0.35) (5.5,0.4) (6.0,0.3) (6.5,0.35)};
\draw[pr,dd] plot coordinates {(0.45,14) (0.7,11) (0.9,9.0) (1.1,8.2) (1.3,7.2) (1.5,7.5) (1.7,6.2) (1.9,6.8) (2.1,5.5) (2.3,6.0) (2.5,4.8) (2.7,4.6) (2.9,3.8) (3.05,4.2) (3.15,3.4) (3.2,4.5) (3.27,1.4) (3.4,0.9) (3.6,0.6) (3.8,0.5) (4.2,0.3) (4.8,0.25) (5.4,0.2) (6.0,0.15) (6.5,0.2)};
\draw[black,dd] plot coordinates {(0.5,15.5) (0.6,13) (0.75,10.5) (0.85,9.5) (0.95,10.5) (1.05,8.0) (1.2,7.2) (1.4,6.5) (1.6,5.8) (1.8,5.0) (1.95,4.2) (2.1,5.2) (2.25,4.0) (2.4,4.8) (2.6,3.8) (2.8,3.3) (2.95,3.0) (3.1,3.8) (3.2,4.2) (3.25,1.0) (3.4,0.6) (3.6,0.3) (3.8,0.25) (4.2,0.15) (5,0.1) (6,0.1) (6.5,0.1)};
\draw[olv,sol] plot coordinates {(0.25,20) (0.45,16) (0.6,14.5) (0.8,13.8) (0.95,13.6) (1.1,13.3) (1.25,12.4) (1.4,12.6) (1.55,13.1) (1.7,12.2) (1.85,11.8) (2.0,11.8) (2.15,11.7) (2.3,11.8) (2.5,11.5) (2.7,11.2) (2.85,11.7) (2.95,11.2) (3.05,12.3) (3.15,11.6) (3.22,9.2) (3.35,8.9) (3.55,8.6) (3.75,8.4) (3.9,8.7) (4.1,8.6) (4.3,8.8) (4.6,8.7) (5.0,8.8) (5.4,8.7) (5.8,8.8) (6.1,8.7) (6.4,8.85) (6.5,8.8)};
\draw[cyn,sol] plot coordinates {(0.25,20) (0.45,15.8) (0.6,14.2) (0.8,13.2) (0.95,12.2) (1.05,12.8) (1.2,11.8) (1.35,12.5) (1.45,11.2) (1.6,11.8) (1.75,10.8) (1.9,11.1) (2.0,10.6) (2.2,10.8) (2.4,10.4) (2.6,10.6) (2.8,10.3) (3.0,10.6) (3.1,10.3) (3.2,10.2) (3.28,7.9) (3.5,7.8) (3.7,7.6) (3.9,7.5) (4.2,7.7) (4.5,7.5) (4.9,7.6) (5.3,7.5) (5.7,7.6) (6.1,7.5) (6.5,7.6)};
\draw[grn,sol] plot coordinates {(0.2,20) (0.4,15.5) (0.6,13.5) (0.8,12.0) (1.0,11.5) (1.2,11.0) (1.35,11.4) (1.5,10.8) (1.7,11.0) (1.9,10.5) (2.1,10.9) (2.3,10.2) (2.5,10.6) (2.7,10.2) (2.9,10.4) (3.0,10.1) (3.1,11.0) (3.2,10.0) (3.28,7.6) (3.5,7.2) (3.7,7.0) (4.0,7.2) (4.4,7.0) (4.8,7.2) (5.2,7.1) (5.6,7.2) (6.0,7.1) (6.5,7.2)};
\draw[pr,sol] plot coordinates {(0.25,20) (0.45,15.5) (0.6,15.0) (0.8,13.0) (1.0,12.5) (1.2,11.7) (1.4,11.5) (1.6,11.3) (1.8,10.7) (2.0,10.9) (2.2,10.5) (2.4,10.6) (2.6,10.3) (2.8,10.4) (3.0,10.2) (3.2,10.0) (3.28,7.6) (3.5,7.4) (3.7,7.2) (4.0,7.3) (4.4,7.0) (4.8,7.1) (5.2,6.9) (5.6,7.1) (6.0,6.9) (6.5,6.95)};
\draw[black,sol] plot coordinates {(0.3,20) (0.45,16) (0.55,14.5) (0.62,17) (0.7,13.5) (0.85,12.5) (1.0,12.8) (1.1,11.3) (1.2,12.0) (1.3,11.0) (1.45,11.3) (1.6,10.7) (1.75,11.0) (1.9,10.2) (2.0,10.7) (2.1,9.7) (2.2,10.5) (2.35,9.9) (2.5,10.1) (2.7,10.0) (2.85,9.6) (3.0,10.3) (3.15,9.8) (3.25,7.0) (3.4,6.8) (3.6,6.6) (3.9,6.8) (4.2,6.6) (4.6,6.7) (5.0,6.6) (5.4,6.7) (5.8,6.5) (6.2,6.6) (6.5,6.5)};
\end{scope}
\filldraw[fill=white,draw=black!80,line width=1pt] (1473.7,516.8) rectangle (1552.6,586.6);
\foreach \yy/\cc/\tx [count=\i] in {524.4/olv/ResNet-20,538.4/cyn/ResNet-32,552.2/grn/ResNet-44,566/pr/ResNet-56,580/black/ResNet-110} {
  \draw[\cc,line width=2.5pt] (1477,\yy) -- (1494.6,\yy);
  \node[font=\tnr\fsz{10},anchor=west] (lg\i) at (1496,\yy) {\tx};}
\node[font=\cjk\fsz{11.5},text=rd] (bpn1) at (1365.5,537) {(虚线是train error，};
\node[font=\cjk\fsz{11.5},text=rd] (bpn2) at (1354,558) {实线是test error)};
\node[font=\tnr\fsz{12}] (bpl1) at (1517,632) {20-layer};
\node[font=\tnr\fsz{12}] (bpl2) at (1517,675) {110-layer};

%% ================= TEXT BELOW GRAPHS =================
\node[font=\cjk\fsz{12.5},text=drd,anchor=base west] (u1) at (837,794.5) {--对于};
\node[font=\cjk\fsz{12.5},text=drd,anchor=base west] (u2) at (u1.base east) {梯度消失或梯度爆炸};
\node[font=\cjk\fsz{12.5},text=drd,anchor=base west] (u3) at (u2.base east) {问题，ResNet论文提出通过};
\node[font=\cjk\fsz{12.5},text=drd,anchor=base west] (u4) at (u3.base east) {数据的预处理};
\node[font=\cjk\fsz{12.5},text=drd,anchor=base west] (u5) at (u4.base east) {以及};
\node[font=\cjk\fsz{12.5},text=drd,anchor=base west] (u6) at (u5.base east) {在网络中使用 BN（Batch Normalization）};
\node[font=\cjk\fsz{12.5},text=drd,anchor=base west] (u7) at (u6.base east) {层来解决。};
\foreach \u in {u2,u4,u6} \draw[drd,line width=0.6pt] ([yshift=-2.5pt]\u.base west) -- ([yshift=-2.5pt]\u.base east);
\node[font=\cjk\fsz{12.5},text=drd,anchor=base west] (v1) at (837,815) {--对于};
\node[font=\cjk\fsz{12.5},text=drd,anchor=base west] (v2) at (v1.base east) {退化问题};
\node[font=\cjk\fsz{12.5},text=drd,anchor=base west] (v3) at (v2.base east) {，ResNet论文提出了 residual结构（残差结构）来减轻退化问题，下图是};
\node[font=\cjk\fsz{12.5},text=drd,anchor=base west] (v4) at (v3.base east) {使用residual结构的};
\node[font=\cjk\fsz{12.5},text=drd,anchor=base west] (v5) at (v4.base east) {卷积网络，可以看到};
\foreach \u in {v2,v4} \draw[drd,line width=0.6pt] ([yshift=-2.5pt]\u.base west) -- ([yshift=-2.5pt]\u.base east);
\node[font=\cjk\fsz{12.5},text=drd,anchor=west] (v6) at (837,831) {随着网络的不断加深，效果并没有变差，而是变的更好了。};
\node[font=\cjk\fsz{9.5},text=lgr,anchor=west] (g1) at (837,850) {跟VggNet类似，ResNet也有多个不同层的版本，而残差结构也有两种对应浅层和深层网络：};
\fill[black!5] (837,869) rectangle (1439,893);
\draw[black!25,line width=0.6pt] (837,869) rectangle (1439,942) (837,893) -- (1439,893) (837,918) -- (1439,918) (987.7,869) -- (987.7,942) (1262.4,869) -- (1262.4,942);
\node[font=\cjk\bfseries\fsz{8},text=lgr] (tb1) at (1125,881) {ResNet};
\node[font=\cjk\bfseries\fsz{8},text=lgr] (tb2) at (1350,881) {残差结构};
\node[font=\cjk\fsz{8},text=lgr] (tb3) at (912,905.4) {浅层网络};
\node[font=\cjk\fsz{8},text=lgr] (tb4) at (1125,905.4) {ResNet18/34};
\node[font=\cjk\fsz{8},text=lgr] (tb5) at (1350,905.4) {BasicBlock};
\node[font=\cjk\fsz{8},text=lgr] (tb6) at (912,929.6) {深层网络};
\node[font=\cjk\fsz{8},text=lgr] (tb7) at (1125,929.6) {ResNet50/101/152};
\node[font=\cjk\fsz{8},text=lgr] (tb8) at (1350,929.6) {Bottleneck};
\node[font=\cjk\fsz{9.5},text=txg,anchor=west] (g2) at (837,966) {下图中左侧残差结构称为 \textbf{BasicBlock}，右侧残差结构称为 \textbf{Bottleneck}};
\node[font=\cjk\fsz{13},text=txg] (g3) at (1089,994) {Residual结构};
% basic block
\node[draw,line width=0.8pt,minimum width=82.3,minimum height=19,font=\carl\fsz{9.5}] (Ba1) at (980.8,1047.5) {3x3, 64};
\node[draw,line width=0.8pt,minimum width=82.3,minimum height=19,font=\carl\fsz{9.5}] (Ba2) at (980.8,1085.5) {3x3, 64};
\node[draw,circle,line width=0.7pt,minimum size=12] (Bas) at (980.8,1113.5) {};
\draw[line width=0.7pt] (Bas.north) -- (Bas.south) (Bas.west) -- (Bas.east);
\coordinate (Bain) at (980.8,1019);
\coordinate (Baj) at (980.8,1027);
\coordinate (Baout) at (980.8,1133);
\draw[arr,line width=0.7pt] (Bain) -- (Ba1.north);
\draw[arr,line width=0.7pt] (Ba1.south) -- (Ba2.north);
\draw[arr,line width=0.7pt] (Ba2.south) -- (Bas.north);
\draw[arr,line width=0.7pt] (Bas.south) -- (Baout);
\draw[arr,line width=0.8pt] (Baj) .. controls (1105,1027) and (1105,1113.5) .. (Bas.east);
\node[font=\carl\fsz{8.5}] (Bad) at (999,1018) {64-d};
\node[font=\carl\fsz{8.5}] (Bar1) at (993,1062) {relu};
\node[font=\carl\fsz{8.5}] (Bar2) at (993,1125.5) {relu};
\node[font=\carl\fsz{12},text=txg] (Banm) at (983,1149) {ResNet18/34};
% bottleneck
\node[draw,line width=0.8pt,minimum width=85,minimum height=12.6,font=\carl\fsz{9}] (Bb1) at (1169.5,1041.3) {1x1, 64};
\node[draw,line width=0.8pt,minimum width=85,minimum height=12.6,font=\carl\fsz{9}] (Bb2) at (1169.5,1066.2) {3x3, 64};
\node[draw,line width=0.8pt,minimum width=85,minimum height=12.6,font=\carl\fsz{9}] (Bb3) at (1169.5,1091.4) {1x1, 256};
\node[draw,circle,line width=0.7pt,minimum size=12] (Bbs) at (1169.5,1112.7) {};
\draw[line width=0.7pt] (Bbs.north) -- (Bbs.south) (Bbs.west) -- (Bbs.east);
\coordinate (Bbin) at (1169.5,1015);
\coordinate (Bbj) at (1169.5,1023);
\coordinate (Bbout) at (1169.5,1131);
\draw[arr,line width=0.7pt] (Bbin) -- (Bb1.north);
\draw[line width=0.7pt] (Bb1.south) -- (Bb2.north);
\draw[line width=0.7pt] (Bb2.south) -- (Bb3.north);
\draw[arr,line width=0.7pt] (Bb3.south) -- (Bbs.north);
\draw[arr,line width=0.7pt] (Bbs.south) -- (Bbout);
\draw[arr,line width=0.8pt] (Bbj) .. controls (1296,1023) and (1296,1112.7) .. (Bbs.east);
\node[font=\carl\fsz{8.5}] (Bbd) at (1189,1014.4) {256-d};
\node[font=\carl\fsz{8}] (Bbr1) at (1182,1053.5) {relu};
\node[font=\carl\fsz{8}] (Bbr2) at (1182,1078.5) {relu};
\node[font=\carl\fsz{8}] (Bbr3) at (1182,1124.5) {relu};
\node[font=\carl\fsz{12},text=txg] (Bbnm) at (1172.5,1151) {ResNet50/101/152};
\draw[draw=blu!80,line width=1.3pt] (1270,1037) rectangle (1380.6,1072);
\node[font=\cjk\fsz{11},text=txg,anchor=west] (bx1) at (1276,1047.5) {1×1的卷积核作用：};
\node[font=\cjk\fsz{11},text=txg,anchor=west] (bx2) at (1276,1062) {降维和升维};
\draw[line width=1.5pt] (1222,1122) rectangle (1563.6,1165);
\node[font=\tnr\fsz{17},anchor=west] (fm1) at (1224,1132) {3×3×256×256+3×3×256×256=1,179,648};
\node[font=\tnr\fsz{17},anchor=west] (fm2) at (1224,1155) {1×1×256×64+3×3×64×64+1×1×64×256=69,632};
\node[font=\cjk\fsz{9.5},text=lgr,anchor=west] (g4) at (837,1184) {对于深层的 Bottleneck，1×1的卷积核起到降维和升维（特征矩阵深度）的作用，同时可以大大减少网络参数。};
\node[font=\cjk\fsz{12.5},anchor=west] (g5) at (846.6,1206.5) {注：CNN参数个数 = 卷积核尺寸×卷积核深度 × 卷积核组数 = 卷积核尺寸 × 输入特征矩阵深度 × 输出特征矩阵深度};
\end{tikzpicture}
\end{document}
